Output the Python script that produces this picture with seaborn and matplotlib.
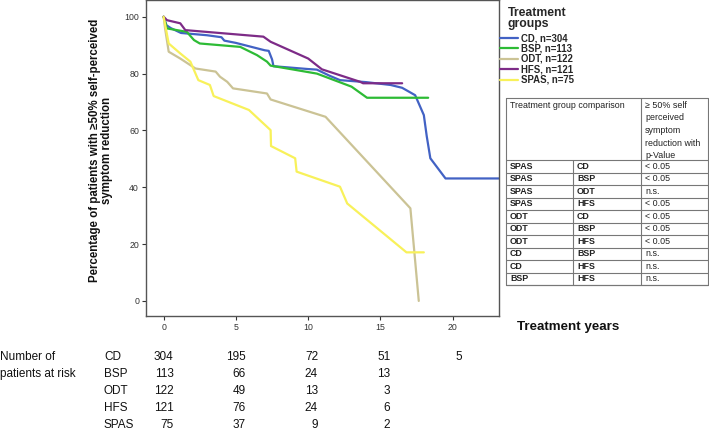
import numpy as np
import pandas as pd
import matplotlib
matplotlib.use("Agg")
import matplotlib.pyplot as plt
import matplotlib.transforms as mtransforms
import seaborn as sns

# ---------------- data ----------------
groups = ["CD", "BSP", "ODT", "HFS", "SPAS"]
group_n = [304, 113, 122, 121, 75]
colors = ["#4262C4", "#2DBB35", "#CBC395", "#7D2B87", "#F8F15A"]

cd_x = [0, 0.2, 0.5, 1.2, 3.0, 4.0, 4.2, 5.0, 6.0, 7.0, 7.27, 7.5, 7.6, 10.0, 10.6, 11.5, 12.2, 14.0, 15.7, 16.5, 17.4, 18.0, 18.2, 18.45, 19.5, 23.2]
cd_y = [100, 97, 96, 94.3, 93.5, 92.8, 91.6, 90.8, 89.5, 88.2, 88.0, 85.0, 82.6, 81.6, 81.4, 79.2, 77.7, 77.0, 76.0, 75.0, 72.4, 65.4, 58.0, 50.2, 43.1, 43.1]

bsp_x = [0, 0.23, 1.6, 2.1, 2.5, 5.3, 6.46, 7.15, 7.4, 10.6, 13.0, 14.07, 18.3]
bsp_y = [100, 95.9, 94.7, 91.8, 90.6, 89.4, 86.5, 84.2, 82.8, 80.0, 75.4, 71.5, 71.5]

odt_x = [0, 0.1, 0.35, 1.15, 2.2, 3.6, 3.9, 4.4, 4.8, 7.15, 7.4, 11.2, 17.07, 17.65]
odt_y = [100, 95.9, 87.7, 85.3, 81.8, 80.7, 78.9, 77.1, 74.8, 73.0, 70.9, 64.8, 32.6, 0.0]

hfs_x = [0, 0.23, 1.15, 1.5, 6.9, 7.4, 10.0, 10.95, 13.6, 13.8, 16.5]
hfs_y = [100, 98.8, 97.7, 95.3, 93.0, 91.2, 85.3, 81.5, 77.1, 76.6, 76.6]

spas_x = [0, 0.35, 1.15, 1.85, 2.4, 3.2, 3.46, 5.9, 7.4, 7.43, 9.1, 9.2, 12.2, 12.7, 16.8, 18.0]
spas_y = [100, 90.6, 87.1, 84.2, 77.7, 76.0, 72.1, 67.2, 60.1, 54.5, 50.2, 45.5, 40.2, 34.3, 17.1, 17.1]

curve_x = [cd_x, bsp_x, odt_x, hfs_x, spas_x]
curve_y = [cd_y, bsp_y, odt_y, hfs_y, spas_y]

risk_years = [0, 5, 10, 15, 20]
risk_cd = [304, 195, 72, 51, 5]
risk_bsp = [113, 66, 24, 13, None]
risk_odt = [122, 49, 13, 3, None]
risk_hfs = [121, 76, 24, 6, None]
risk_spas = [75, 37, 9, 2, None]
risk_rows = [risk_cd, risk_bsp, risk_odt, risk_hfs, risk_spas]

cmp_a = ["SPAS", "SPAS", "SPAS", "SPAS", "ODT", "ODT", "ODT", "CD", "CD", "BSP"]
cmp_b = ["CD", "BSP", "ODT", "HFS", "CD", "BSP", "HFS", "BSP", "HFS", "HFS"]
cmp_p = ["< 0.05", "< 0.05", "n.s.", "< 0.05", "< 0.05", "< 0.05", "< 0.05", "n.s.", "n.s.", "n.s."]

labels = [f"{g}, n={n}" for g, n in zip(groups, group_n)]
rows = []
for lab, xs, ys in zip(labels, curve_x, curve_y):
    for x, y in zip(xs, ys):
        rows.append({"group": lab, "years": x, "pct": y})
df = pd.DataFrame(rows)

# ---------------- figure ----------------
sns.set_theme(style="ticks")
plt.rcParams["font.family"] = ["Liberation Sans", "DejaVu Sans"]

W, H = 709, 434
fig = plt.figure(figsize=(W / 100, H / 100), dpi=100)

def fx(px):
    return px / W

def fy(py):
    return 1 - py / H

ax_l, ax_r, ax_t, ax_b = 146, 499, 0, 316
ax = fig.add_axes([fx(ax_l), fy(ax_b), fx(ax_r - ax_l), (ax_b - ax_t) / H])

sns.lineplot(data=df, x="years", y="pct", hue="group", hue_order=labels,
             palette=colors, sort=False, estimator=None,
             linewidth=1.6, ax=ax, legend=True)

ax.set_xlim(-1.22, 23.2)
ax.set_ylim(-5.3, 105.9)
ax.set_xticks([0, 5, 10, 15, 20])
ax.set_yticks([0, 20, 40, 60, 80, 100])
for s in ax.spines.values():
    s.set_color("#555555")
    s.set_linewidth(1.0)
ax.tick_params(axis="both", labelsize=6.3, colors="#333333", length=3, width=0.8, pad=2)
ax.set_xlabel("")
ax.set_ylabel("Percentage of patients with \u226550% self-perceived\nsymptom reduction",
              fontsize=8.3, fontweight="bold", linespacing=1.0, color="#111111")
ax.yaxis.set_label_coords((113 - ax_l) / (ax_r - ax_l), (ax_b - 150) / (ax_b - ax_t))

# legend
handles, _ = ax.get_legend_handles_labels()
leg = ax.legend(handles, labels, title="Treatment\ngroups", loc="upper left",
                bbox_to_anchor=(fx(498), fy(5)), bbox_transform=fig.transFigure,
                frameon=False, handlelength=1.9, handletextpad=0.3, labelspacing=0.05,
                borderaxespad=0, borderpad=0.2, alignment="center",
                prop={"size": 6.9, "weight": "bold"})
leg.get_title().set_fontsize(8.8)
leg.get_title().set_fontweight("bold")
leg.get_title().set_linespacing(0.85)
leg._legend_box.sep = 2.5

# x axis title
fig.text(fx(517), fy(327), "Treatment years", fontsize=9.6, fontweight="bold",
         ha="left", va="center", color="#111111")

# numbers at risk
row_py = [357, 374, 391, 408, 425]
fig.text(0.0, fy((row_py[0] + row_py[1]) / 2), "Number of\npatients at risk", fontsize=8.5,
         ha="left", va="center", linespacing=1.45, color="#111111")
trans = mtransforms.blended_transform_factory(ax.transData, fig.transFigure)
for g, vals, py in zip(groups, risk_rows, row_py):
    fig.text(fx(104), fy(py), g, fontsize=8.5, ha="left", va="center", color="#111111")
    for yr, v in zip(risk_years, vals):
        if v is None:
            continue
        ax.text(yr + 0.68, fy(py), str(v), transform=trans, fontsize=8.5,
                ha="right", va="center", color="#111111", clip_on=False)

# comparison table
tx0, tx1, tx2, tx3 = 506, 573, 641, 708
ty_top, ty_head = 98, 160
ty_bot = 285
tab = fig.add_axes([0, 0, 1, 1], facecolor="none")
tab.set_xlim(0, W)
tab.set_ylim(H, 0)
tab.axis("off")
lc = "#777777"
lw = 0.8
tab.plot([tx0, tx3, tx3, tx0, tx0], [ty_top, ty_top, ty_bot, ty_bot, ty_top], color=lc, lw=lw)
tab.plot([tx2, tx2], [ty_top, ty_bot], color=lc, lw=lw)
tab.plot([tx1, tx1], [ty_head, ty_bot], color=lc, lw=lw)
nrows = len(cmp_a)
rh = (ty_bot - ty_head) / nrows
for i in range(nrows + 1):
    yy = ty_head + i * rh
    tab.plot([tx0, tx3], [yy, yy], color=lc, lw=lw)
tfs = 6.4
tab.text(tx0 + 4, ty_top + 3, "Treatment group comparison", fontsize=tfs,
         ha="left", va="top", color="#222222")
tab.text(tx2 + 4, ty_top + 3, "\u2265 50% self\nperceived\nsymptom\nreduction with\np-Value",
         fontsize=tfs, ha="left", va="top", color="#222222", linespacing=1.5)
for i, (a, b, p) in enumerate(zip(cmp_a, cmp_b, cmp_p)):
    yy = ty_head + (i + 0.5) * rh
    tab.text(tx0 + 4, yy, a, fontsize=tfs, ha="left", va="center", color="#222222",
             fontweight="bold")
    tab.text(tx1 + 4, yy, b, fontsize=tfs, ha="left", va="center", color="#222222",
             fontweight="bold")
    tab.text(tx2 + 4, yy, p, fontsize=tfs, ha="left", va="center", color="#222222")

fig.savefig("out.png", dpi=100)
